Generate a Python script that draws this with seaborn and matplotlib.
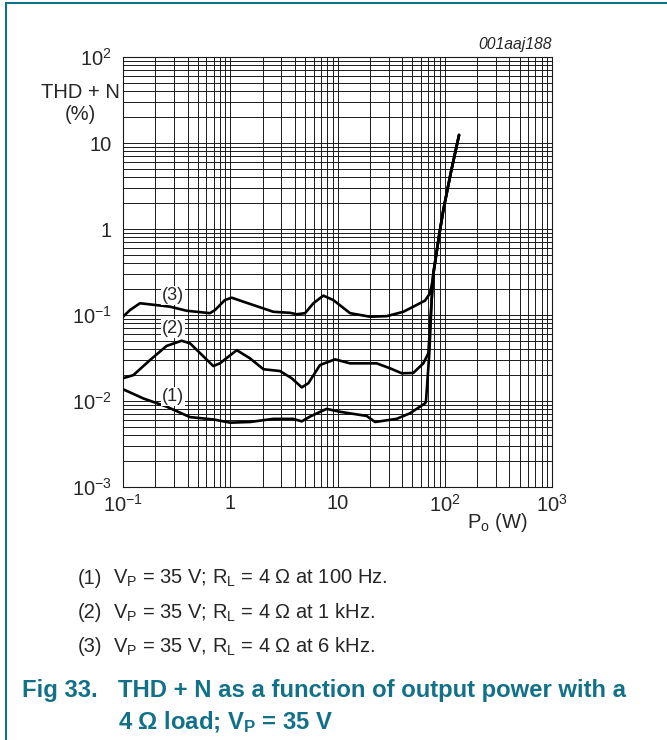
import matplotlib
matplotlib.use("Agg")
import matplotlib.pyplot as plt
import matplotlib.ticker as mticker
import seaborn as sns
import pandas as pd

# curve data (P in W, THD+N in %)
steep_p = [81, 88.3, 97, 114, 136]
steep_t = [0.40, 0.82, 1.66, 4.54, 12.4]

p1 = [0.1, 0.155, 0.255, 0.421, 0.695, 1.0, 1.53, 2.52, 3.86, 4.64, 5.55, 7.92, 10.5,
      18.7, 22.4, 35.6, 47.4, 65.5, 66.8, 71.8, 75.5, 78.2]
t1 = [0.0137, 0.0107, 0.0086, 0.0065, 0.0061, 0.0056, 0.0057, 0.0062, 0.0062, 0.0058,
      0.0066, 0.0081, 0.0075, 0.0067, 0.0057, 0.0062, 0.0072, 0.0094, 0.0098, 0.0359,
      0.149, 0.305]

p2 = [0.1, 0.125, 0.179, 0.255, 0.352, 0.421, 0.695, 0.80, 1.15, 1.53, 2.04, 2.91, 3.74,
      4.64, 5.35, 6.87, 9.48, 13.1, 23.2, 30.9, 39.7, 50.9, 63.1, 70.3, 72.8, 78.2]
t2 = [0.0184, 0.020, 0.030, 0.0437, 0.0502, 0.0469, 0.0255, 0.0274, 0.039, 0.0313, 0.0234,
      0.0223, 0.0184, 0.0144, 0.0161, 0.0262, 0.0305, 0.0274, 0.0274, 0.024, 0.021, 0.0212,
      0.0274, 0.0359, 0.073, 0.305]

p3 = [0.1, 0.116, 0.144, 0.274, 0.393, 0.647, 0.72, 0.89, 1.03, 1.32, 2.52, 3.61, 4.17,
      4.98, 5.96, 7.38, 9.15, 13.1, 20.1, 28.8, 41.1, 50.9, 65.5, 72.8, 77]
t3 = [0.0955, 0.114, 0.137, 0.125, 0.112, 0.105, 0.114, 0.149, 0.159, 0.143, 0.109, 0.106,
      0.102, 0.105, 0.137, 0.168, 0.149, 0.105, 0.0955, 0.097, 0.109, 0.125, 0.147, 0.179,
      0.25]

curve_names = ["(1)", "(2)", "(3)"]
x_ticks = [0.1, 1, 10, 100, 1000]
x_ticklabels = ["10$^{-1}$", "1", "10", "10$^{2}$", "10$^{3}$"]
y_ticks = [0.001, 0.01, 0.1, 1, 10, 100]
y_ticklabels = ["10$^{-3}$", "10$^{-2}$", "10$^{-1}$", "1", "10", "10$^{2}$"]

legend_lines = [
    ("(1)", "V$_\\mathregular{P}$ = 35 V; R$_\\mathregular{L}$ = 4 \u03a9 at 100 Hz."),
    ("(2)", "V$_\\mathregular{P}$ = 35 V; R$_\\mathregular{L}$ = 4 \u03a9 at 1 kHz."),
    ("(3)", "V$_\\mathregular{P}$ = 35 V, R$_\\mathregular{L}$ = 4 \u03a9 at 6 kHz."),
]

rows = []
for name, ps, ts in zip(curve_names, [p1, p2, p3], [t1, t2, t3]):
    for i, (p, t) in enumerate(zip(ps + steep_p, ts + steep_t)):
        rows.append({"curve": name, "P": p, "THD": t, "order": i})
df = pd.DataFrame(rows)

sns.set_style("white")
plt.rcParams["font.family"] = ["Liberation Sans", "DejaVu Sans"]
plt.rcParams["mathtext.fontset"] = "custom"
plt.rcParams["mathtext.rm"] = "Liberation Sans"
plt.rcParams["mathtext.it"] = "Liberation Sans:italic"
plt.rcParams["mathtext.bf"] = "Liberation Sans:bold"

teal = "#127189"
fs = 14.5
fig = plt.figure(figsize=(6.67, 7.4), dpi=100)
ax = fig.add_axes([123 / 667, 1 - 487 / 740, 429 / 667, 430 / 740])

for name in curve_names:
    sub = df[df["curve"] == name]
    sns.lineplot(data=sub, x="P", y="THD", sort=False, estimator=None, ax=ax,
                 color="black", linewidth=1.9, zorder=3)

ax.set_xscale("log")
ax.set_yscale("log")
ax.set_xlim(0.1, 1000)
ax.set_ylim(0.001, 100)

ax.xaxis.set_major_locator(mticker.FixedLocator(x_ticks))
ax.xaxis.set_major_formatter(mticker.FixedFormatter(x_ticklabels))
ax.yaxis.set_major_locator(mticker.FixedLocator(y_ticks))
ax.yaxis.set_major_formatter(mticker.FixedFormatter(y_ticklabels))
ax.xaxis.set_minor_locator(mticker.LogLocator(base=10, subs=range(2, 10)))
ax.yaxis.set_minor_locator(mticker.LogLocator(base=10, subs=range(2, 10)))
ax.xaxis.set_minor_formatter(mticker.NullFormatter())
ax.yaxis.set_minor_formatter(mticker.NullFormatter())
ax.grid(which="both", color="#1a1a1a", linewidth=0.7)
ax.tick_params(which="both", length=0, labelsize=fs)
ax.tick_params(axis="x", pad=5)
ax.tick_params(axis="y", pad=8)
ax.set_xlabel("")
ax.set_ylabel("")
for s in ax.spines.values():
    s.set_color("#1a1a1a")
    s.set_linewidth(0.8)

# curve labels
for name, (lx, ly) in zip(curve_names, [(0.29, 0.0114), (0.29, 0.069), (0.29, 0.17)]):
    ax.text(lx, ly, name, ha="center", va="center", fontsize=13, zorder=4,
            bbox=dict(boxstyle="square,pad=0.05", fc="white", ec="none"))

fig.text(80 / 667, 1 - 92 / 740, "THD + N", ha="center", va="center", fontsize=fs)
fig.text(80 / 667, 1 - 115 / 740, "(%)", ha="center", va="center", fontsize=fs)
fig.text(497 / 667, 1 - 522 / 740, "P$_\\mathregular{o}$ (W)", ha="center", va="center",
         fontsize=fs)
fig.text(552 / 667, 1 - 45 / 740, "001aaj188", ha="right", va="center", fontsize=11.3,
         style="italic")

for i, (num, txt) in enumerate(legend_lines):
    y = 1 - (578 + 34.5 * i) / 740
    fig.text(78 / 667, y, num, ha="left", va="center", fontsize=fs)
    fig.text(113 / 667, y, txt, ha="left", va="center", fontsize=fs)

cap_fs = 17.2
fig.text(22 / 667, 1 - 690 / 740, "Fig 33.", ha="left", va="center", fontsize=cap_fs,
         color=teal, fontweight="bold")
fig.text(118 / 667, 1 - 690 / 740, "THD + N as a function of output power with a",
         ha="left", va="center", fontsize=cap_fs, color=teal, fontweight="bold")
fig.text(118 / 667, 1 - 722 / 740, "4 \u03a9 load; V$_\\mathbf{P}$ = 35 V",
         ha="left", va="center", fontsize=cap_fs, color=teal, fontweight="bold")

# page frame lines
fig.add_artist(plt.Line2D([6 / 667, 6 / 667], [0, 1 - 3 / 740], color=teal, linewidth=1.5))
fig.add_artist(plt.Line2D([6 / 667, 1], [1 - 3 / 740, 1 - 3 / 740], color=teal, linewidth=1.5))

fig.savefig("out.png", dpi=100)
